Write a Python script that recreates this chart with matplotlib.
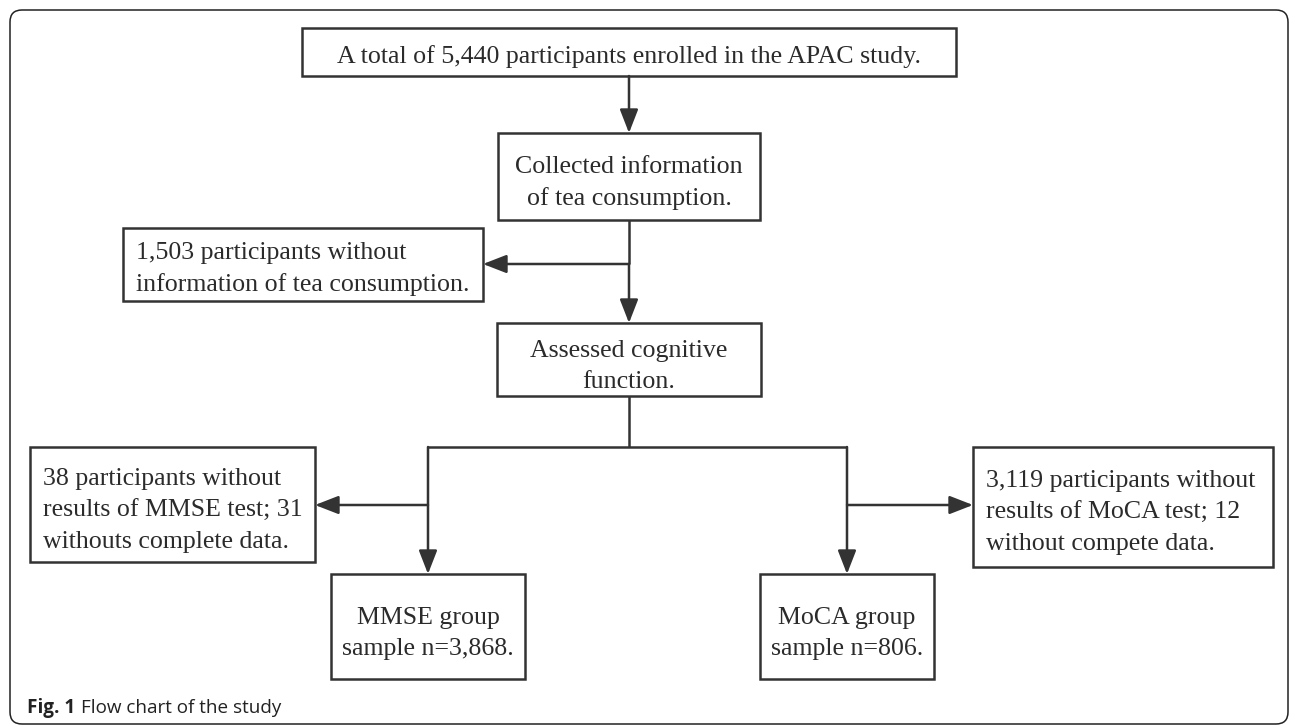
import matplotlib.pyplot as plt
from matplotlib.patches import Rectangle, FancyBboxPatch

# box texts (one string per line)
top_lines = ["A total of 5,440 participants enrolled in the APAC study."]
tea_lines = ["Collected information", "of tea consumption."]
excl_tea_lines = ["1,503 participants without", "information of tea consumption."]
cog_lines = ["Assessed cognitive", "function."]
excl_mmse_lines = ["38 participants without", "results of MMSE test; 31", "withouts complete data."]
excl_moca_lines = ["3,119 participants without", "results of MoCA test; 12", "without compete data."]
mmse_lines = ["MMSE group", "sample n=3,868."]
moca_lines = ["MoCA group", "sample n=806."]
caption_bold = "Fig. 1"
caption_text = "Flow chart of the study"

# layout in pixel units: (left, top, right, bottom), first baseline, alignment
boxes = [
    (top_lines, (302, 28, 956, 76), 63, "center"),
    (tea_lines, (498, 133, 760, 220), 173, "center"),
    (excl_tea_lines, (123, 228, 483, 301), 259, "left"),
    (cog_lines, (497, 323, 761, 396), 357, "center"),
    (excl_mmse_lines, (30, 447, 315, 562), 485, "left"),
    (excl_moca_lines, (973, 447, 1273, 567), 487, "left"),
    (mmse_lines, (331, 574, 525, 679), 624, "center"),
    (moca_lines, (760, 574, 934, 679), 624, "center"),
]
LINE_GAP = 31.5
EDGE = "#333333"
TXT = "#2b2b2b"

fig = plt.figure(figsize=(12.9, 7.26), dpi=100)
ax = fig.add_axes([0, 0, 1, 1])
ax.set_xlim(0, 1290)
ax.set_ylim(726, 0)
ax.axis("off")

# outer frame
frame = FancyBboxPatch((10, 10), 1278, 714, boxstyle="round,pad=0,rounding_size=12",
                       fc="white", ec="#222222", lw=1.1)
ax.add_patch(frame)

for lines, (l, t, r, b), base, align in boxes:
    ax.add_patch(Rectangle((l, t), r - l, b - t, fill=False, ec=EDGE, lw=1.8))
    x = (l + r) / 2 if align == "center" else l + 13
    for i, s in enumerate(lines):
        ax.text(x, base + i * LINE_GAP, s, ha=align, va="baseline",
                family="Liberation Serif", fontsize=18.6, color=TXT)


def line(xs, ys):
    ax.plot(xs, ys, color=EDGE, lw=1.8, solid_capstyle="butt")


def arrow(x0, y0, x1, y1):
    ax.annotate("", xy=(x1, y1), xytext=(x0, y0),
                arrowprops=dict(arrowstyle="-|>,head_length=0.9,head_width=0.35",
                                color=EDGE, lw=1.8, shrinkA=0, shrinkB=0,
                                mutation_scale=16))


cx = 629
arrow(cx, 76, cx, 133)
line([cx, cx], [220, 264])
arrow(cx, 264, 483, 264)
arrow(cx, 264, cx, 323)
line([cx, cx], [396, 447])
line([428, 847], [447, 447])
arrow(428, 447, 428, 574)
arrow(847, 447, 847, 574)
arrow(428, 505, 315, 505)
arrow(847, 505, 973, 505)

# caption
t1 = ax.text(27, 713, caption_bold, ha="left", va="baseline", family="Open Sans",
             fontweight="bold", fontsize=13.6, color="#222222")
fig.canvas.draw()
bb = t1.get_window_extent()
x_end = ax.transData.inverted().transform((bb.x1, bb.y0))[0]
ax.text(x_end + 6, 713, caption_text, ha="left", va="baseline", family="Open Sans",
        fontsize=13.6, color="#222222")

fig.savefig("out.png", dpi=100)
